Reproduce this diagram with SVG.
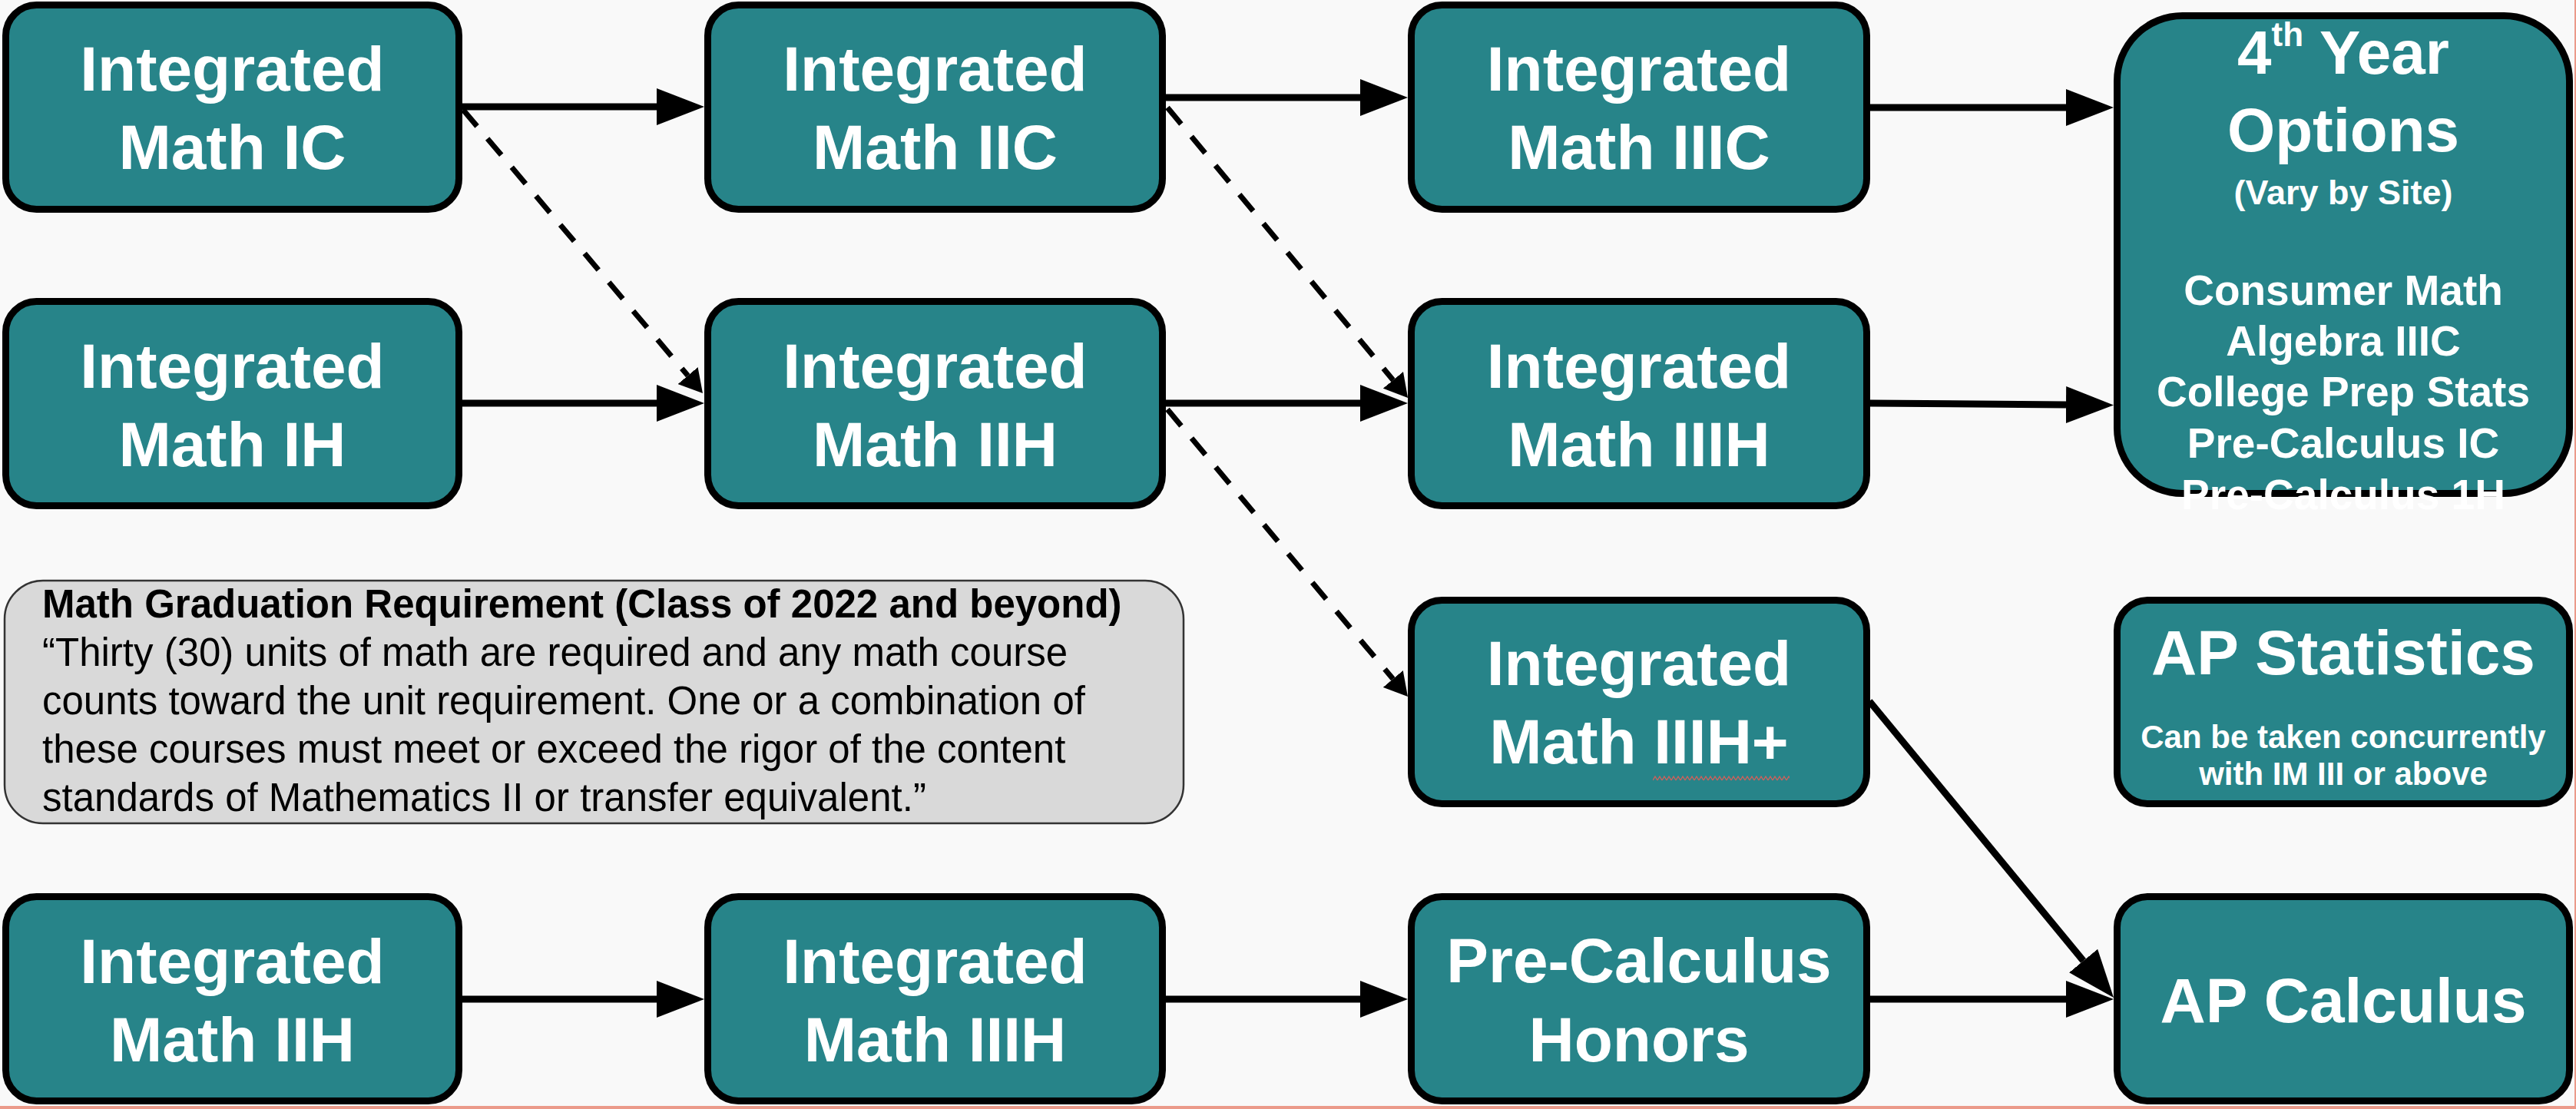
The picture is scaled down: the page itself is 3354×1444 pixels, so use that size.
<svg xmlns="http://www.w3.org/2000/svg" width="3354" height="1444" viewBox="0 0 3354 1444">
<style>
.box{fill:#278489;stroke:#000;stroke-width:9}
.t{font-family:"Liberation Sans",Arial,sans-serif;font-weight:bold;fill:#fff;text-anchor:middle}
.big{font-size:82px}
.note{fill:#d9d9d9;stroke:#333;stroke-width:2.5}
.nt{font-family:"Liberation Sans",Arial,sans-serif;font-size:51px;fill:#000}
.solid{stroke:#000;stroke-width:9;fill:none}
.dash{stroke:#000;stroke-width:7;fill:none;stroke-dasharray:28 21}
</style>
<defs>
<marker id="arr" markerUnits="userSpaceOnUse" viewBox="0 0 62 48" refX="0" refY="24" markerWidth="62" markerHeight="48" orient="auto">
<path d="M0,0 L62,24 L0,48 z" fill="#000"/>
</marker>
<marker id="arrs" markerUnits="userSpaceOnUse" viewBox="0 0 30 34" refX="0" refY="17" markerWidth="30" markerHeight="34" orient="auto">
<path d="M0,0 L30,17 L0,34 z" fill="#000"/>
</marker>
<pattern id="squig" patternUnits="userSpaceOnUse" x="2152" y="1009" width="6" height="9">
<path d="M0,7 L3,2 L6,7" fill="none" stroke="#d0605a" stroke-width="1.4"/>
</pattern>
</defs>
<rect x="0" y="0" width="3354" height="1444" fill="#f9f9f9"/>
<rect x="0" y="1440" width="3354" height="4" fill="#eb9a8a"/>
<rect x="3352" y="0" width="2" height="1444" fill="#eb9a8a"/>

<g id="connectors">
<line class="solid" x1="602" y1="139" x2="855" y2="139" marker-end="url(#arr)"/>
<line class="solid" x1="1518" y1="127" x2="1771" y2="127" marker-end="url(#arr)"/>
<line class="solid" x1="2435" y1="140" x2="2690" y2="140" marker-end="url(#arr)"/>
<line class="solid" x1="602" y1="525" x2="855" y2="525" marker-end="url(#arr)"/>
<line class="solid" x1="1518" y1="525" x2="1771" y2="525" marker-end="url(#arr)"/>
<line class="solid" x1="2435" y1="525" x2="2690" y2="527" marker-end="url(#arr)"/>
<line class="solid" x1="602" y1="1301" x2="855" y2="1301" marker-end="url(#arr)"/>
<line class="solid" x1="1518" y1="1301" x2="1771" y2="1301" marker-end="url(#arr)"/>
<line class="solid" x1="2435" y1="1301" x2="2690" y2="1301" marker-end="url(#arr)"/>
<line class="solid" x1="2434" y1="913" x2="2712.6" y2="1251.1" marker-end="url(#arr)"/>
<line class="dash" x1="603" y1="143" x2="895.6" y2="489.1" marker-end="url(#arrs)"/>
<line class="dash" x1="1520" y1="140" x2="1813.9" y2="494.9" marker-end="url(#arrs)"/>
<line class="dash" x1="1520" y1="533" x2="1813.7" y2="884" marker-end="url(#arrs)"/>
</g>

<g id="im1c">
<rect class="box" x="7.5" y="6.5" width="590" height="266" rx="40"/>
<text class="t big" x="302.5" y="118">Integrated</text>
<text class="t big" x="302.5" y="220">Math IC</text>
</g>
<g id="im2c">
<rect class="box" x="921.5" y="6.5" width="592" height="266" rx="40"/>
<text class="t big" x="1217.5" y="118">Integrated</text>
<text class="t big" x="1217.5" y="220">Math IIC</text>
</g>
<g id="im3c">
<rect class="box" x="1837.5" y="6.5" width="593" height="266" rx="40"/>
<text class="t big" x="2134" y="118">Integrated</text>
<text class="t big" x="2134" y="220">Math IIIC</text>
</g>
<g id="fourth-year">
<rect class="box" x="2756.5" y="20.5" width="589" height="622" rx="85"/>
<text class="t" x="3051" y="96" font-size="80">4<tspan font-size="44" dy="-36">th</tspan><tspan dy="36"> Year</tspan></text>
<text class="t" x="3051" y="197" font-size="80">Options</text>
<text class="t" x="3051" y="266" font-size="45">(Vary by Site)</text>
<text class="t" x="3051" y="397" font-size="55">Consumer Math</text>
<text class="t" x="3051" y="463" font-size="55">Algebra IIIC</text>
<text class="t" x="3051" y="529" font-size="55">College Prep Stats</text>
<text class="t" x="3051" y="596" font-size="55">Pre-Calculus IC</text>
<text class="t" x="3051" y="663" font-size="55">Pre-Calculus 1H</text>
</g>
<g id="im1h">
<rect class="box" x="7.5" y="392.5" width="590" height="266" rx="40"/>
<text class="t big" x="302.5" y="505">Integrated</text>
<text class="t big" x="302.5" y="607">Math IH</text>
</g>
<g id="im2h">
<rect class="box" x="921.5" y="392.5" width="592" height="266" rx="40"/>
<text class="t big" x="1217.5" y="505">Integrated</text>
<text class="t big" x="1217.5" y="607">Math IIH</text>
</g>
<g id="im3h">
<rect class="box" x="1837.5" y="392.5" width="593" height="266" rx="40"/>
<text class="t big" x="2134" y="505">Integrated</text>
<text class="t big" x="2134" y="607">Math IIIH</text>
</g>
<g id="grad-note">
<rect class="note" x="6" y="756" width="1535" height="316" rx="50"/>
<text class="nt" x="55" y="804" font-weight="bold">Math Graduation Requirement (Class of 2022 and beyond)</text>
<text class="nt" x="55" y="867">“Thirty (30) units of math are required and any math course</text>
<text class="nt" x="55" y="930">counts toward the unit requirement. One or a combination of</text>
<text class="nt" x="55" y="993">these courses must meet or exceed the rigor of the content</text>
<text class="nt" x="55" y="1056">standards of Mathematics II or transfer equivalent.”</text>
</g>
<g id="im3hplus">
<rect class="box" x="1837.5" y="781.5" width="593" height="265" rx="40"/>
<text class="t big" x="2134" y="892">Integrated</text>
<text class="t big" x="2134" y="994">Math IIIH+</text>
<rect x="2152" y="1009" width="178" height="9" fill="url(#squig)"/>
</g>
<g id="ap-stats">
<rect class="box" x="2756.5" y="781.5" width="589" height="265" rx="40"/>
<text class="t big" x="3051" y="878">AP Statistics</text>
<text class="t" x="3051" y="974" font-size="42">Can be taken concurrently</text>
<text class="t" x="3051" y="1022" font-size="42">with IM III or above</text>
</g>
<g id="im2h-b">
<rect class="box" x="7.5" y="1167.5" width="590" height="266" rx="40"/>
<text class="t big" x="302.5" y="1280">Integrated</text>
<text class="t big" x="302.5" y="1382">Math IIH</text>
</g>
<g id="im3h-b">
<rect class="box" x="921.5" y="1167.5" width="592" height="266" rx="40"/>
<text class="t big" x="1217.5" y="1280">Integrated</text>
<text class="t big" x="1217.5" y="1382">Math IIIH</text>
</g>
<g id="precalc-h">
<rect class="box" x="1837.5" y="1167.5" width="593" height="266" rx="40"/>
<text class="t big" x="2134" y="1279">Pre-Calculus</text>
<text class="t big" x="2134" y="1382">Honors</text>
</g>
<g id="ap-calc">
<rect class="box" x="2756.5" y="1167.5" width="589" height="266" rx="40"/>
<text class="t big" x="3051" y="1331">AP Calculus</text>
</g>
</svg>
